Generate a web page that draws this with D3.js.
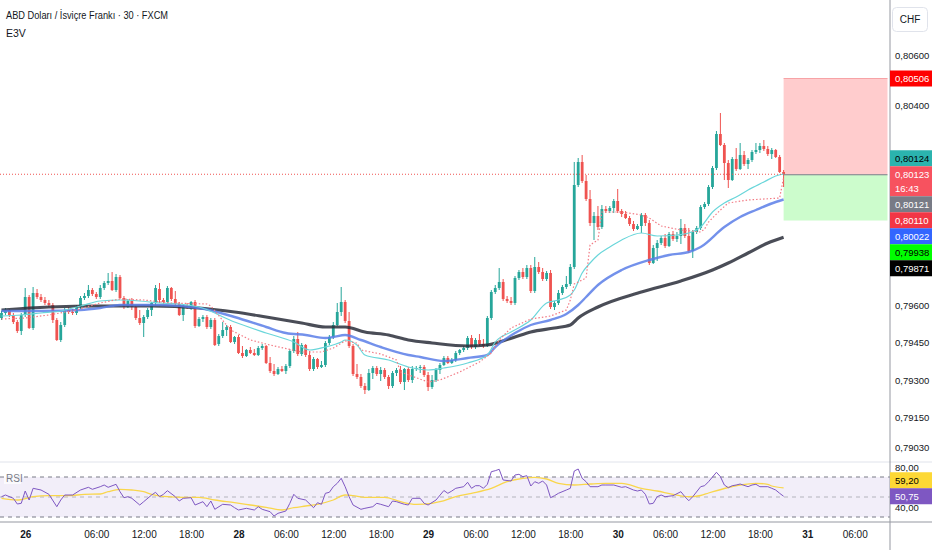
<!DOCTYPE html>
<html>
<head>
<meta charset="utf-8">
<script src="https://cdn.jsdelivr.net/npm/d3@7"></script>
<style>
  body { margin: 0; background: #fff; }
  svg { display: block; font-family: "Liberation Sans", Arial, sans-serif; }
</style>
</head>
<body>
<div id="vis"></div>
<script>
// 30 min bars, USD/CHF (FXCM)
var opens = [
  0.79548,0.79568,0.79580,0.79560,0.79532,0.79496,0.79560,0.79632,0.79508,0.79648,
  0.79632,0.79620,0.79608,0.79600,0.79540,0.79460,0.79520,0.79580,0.79572,0.79568,
  0.79592,0.79628,0.79636,0.79660,0.79644,0.79632,0.79668,0.79688,0.79696,0.79660,
  0.79712,0.79628,0.79592,0.79616,0.79592,0.79548,0.79528,0.79552,0.79580,0.79608,
  0.79664,0.79620,0.79612,0.79668,0.79624,0.79604,0.79560,0.79596,0.79588,0.79612,
  0.79516,0.79544,0.79552,0.79512,0.79540,0.79444,0.79476,0.79500,0.79512,0.79452,
  0.79472,0.79408,0.79396,0.79420,0.79408,0.79400,0.79428,0.79436,0.79368,0.79336,
  0.79324,0.79344,0.79336,0.79356,0.79416,0.79464,0.79404,0.79440,0.79400,0.79344,
  0.79384,0.79352,0.79360,0.79448,0.79472,0.79520,0.79572,0.79612,0.79536,0.79436,
  0.79324,0.79312,0.79276,0.79260,0.79328,0.79348,0.79324,0.79340,0.79312,0.79276,
  0.79328,0.79340,0.79292,0.79344,0.79300,0.79344,0.79348,0.79352,0.79320,0.79272,
  0.79300,0.79340,0.79360,0.79388,0.79368,0.79380,0.79408,0.79420,0.79428,0.79468,
  0.79432,0.79460,0.79444,0.79436,0.79548,0.79652,0.79668,0.79692,0.79624,0.79616,
  0.79608,0.79708,0.79732,0.79712,0.79748,0.79656,0.79752,0.79732,0.79704,0.79728,
  0.79592,0.79608,0.79648,0.79672,0.79684,0.79752,0.80080,0.80172,0.80096,0.80024,
  0.79928,0.79956,0.79912,0.79984,0.79976,0.79988,0.80016,0.79976,0.79964,0.79948,
  0.79924,0.79904,0.79916,0.79960,0.79928,0.79768,0.79828,0.79848,0.79868,0.79836,
  0.79884,0.79864,0.79876,0.79908,0.79876,0.79816,0.79892,0.79908,0.79992,0.80004,
  0.80072,0.80148,0.80284,0.80240,0.80168,0.80100,0.80184,0.80144,0.80200,0.80164,
  0.80180,0.80212,0.80220,0.80236,0.80224,0.80204,0.80220,0.80192,0.80132
];
var highs = [
  0.79576,0.79588,0.79584,0.79568,0.79540,0.79568,0.79668,0.79640,0.79672,0.79664,
  0.79644,0.79632,0.79620,0.79608,0.79548,0.79532,0.79588,0.79592,0.79584,0.79600,
  0.79636,0.79648,0.79680,0.79668,0.79652,0.79680,0.79696,0.79728,0.79732,0.79724,
  0.79720,0.79636,0.79624,0.79628,0.79600,0.79580,0.79560,0.79588,0.79612,0.79680,
  0.79688,0.79628,0.79676,0.79672,0.79656,0.79612,0.79600,0.79608,0.79616,0.79620,
  0.79552,0.79560,0.79560,0.79548,0.79548,0.79484,0.79532,0.79520,0.79520,0.79476,
  0.79480,0.79436,0.79424,0.79432,0.79424,0.79436,0.79444,0.79440,0.79392,0.79364,
  0.79352,0.79356,0.79364,0.79424,0.79476,0.79492,0.79448,0.79444,0.79416,0.79392,
  0.79388,0.79376,0.79456,0.79480,0.79532,0.79608,0.79672,0.79620,0.79572,0.79444,
  0.79364,0.79324,0.79288,0.79344,0.79356,0.79356,0.79352,0.79348,0.79320,0.79336,
  0.79348,0.79356,0.79348,0.79352,0.79356,0.79356,0.79360,0.79360,0.79332,0.79320,
  0.79348,0.79368,0.79396,0.79396,0.79388,0.79416,0.79424,0.79436,0.79476,0.79480,
  0.79468,0.79484,0.79464,0.79556,0.79660,0.79680,0.79748,0.79704,0.79636,0.79632,
  0.79716,0.79740,0.79748,0.79760,0.79760,0.79792,0.79772,0.79748,0.79736,0.79740,
  0.79616,0.79660,0.79680,0.79716,0.79764,0.80172,0.80188,0.80200,0.80120,0.80060,
  0.79972,0.79996,0.80000,0.79996,0.79996,0.80024,0.80064,0.79984,0.79976,0.79956,
  0.79936,0.79924,0.79968,0.79968,0.79940,0.79840,0.79860,0.79876,0.79884,0.79892,
  0.79896,0.79892,0.79944,0.79924,0.79908,0.79900,0.79916,0.80000,0.80012,0.80080,
  0.80156,0.80296,0.80368,0.80248,0.80180,0.80192,0.80228,0.80248,0.80216,0.80188,
  0.80220,0.80248,0.80248,0.80260,0.80236,0.80228,0.80224,0.80200,0.80140
];
var lows = [
  0.79540,0.79560,0.79552,0.79524,0.79488,0.79480,0.79552,0.79504,0.79500,0.79624,
  0.79612,0.79600,0.79592,0.79528,0.79456,0.79452,0.79512,0.79564,0.79560,0.79560,
  0.79584,0.79620,0.79628,0.79636,0.79624,0.79624,0.79660,0.79680,0.79656,0.79652,
  0.79624,0.79584,0.79588,0.79580,0.79540,0.79520,0.79472,0.79544,0.79556,0.79596,
  0.79608,0.79604,0.79604,0.79616,0.79596,0.79556,0.79536,0.79584,0.79580,0.79508,
  0.79512,0.79532,0.79504,0.79504,0.79436,0.79436,0.79468,0.79476,0.79448,0.79444,
  0.79404,0.79388,0.79392,0.79404,0.79396,0.79396,0.79420,0.79364,0.79328,0.79316,
  0.79320,0.79332,0.79324,0.79348,0.79408,0.79396,0.79396,0.79392,0.79336,0.79336,
  0.79344,0.79348,0.79352,0.79440,0.79464,0.79516,0.79556,0.79528,0.79428,0.79316,
  0.79304,0.79268,0.79244,0.79256,0.79304,0.79316,0.79296,0.79304,0.79264,0.79268,
  0.79316,0.79284,0.79260,0.79292,0.79288,0.79336,0.79328,0.79312,0.79256,0.79264,
  0.79292,0.79324,0.79356,0.79364,0.79364,0.79372,0.79400,0.79412,0.79420,0.79424,
  0.79424,0.79436,0.79428,0.79432,0.79540,0.79644,0.79660,0.79616,0.79608,0.79600,
  0.79600,0.79700,0.79704,0.79704,0.79648,0.79648,0.79724,0.79696,0.79696,0.79584,
  0.79580,0.79600,0.79640,0.79664,0.79676,0.79744,0.80072,0.80088,0.80016,0.79916,
  0.79860,0.79900,0.79904,0.79968,0.79968,0.79968,0.79968,0.79952,0.79944,0.79916,
  0.79896,0.79900,0.79888,0.79916,0.79760,0.79764,0.79776,0.79840,0.79828,0.79832,
  0.79856,0.79852,0.79844,0.79868,0.79808,0.79788,0.79884,0.79900,0.79984,0.79996,
  0.80064,0.80140,0.80236,0.80100,0.80068,0.80096,0.80136,0.80140,0.80156,0.80144,
  0.80172,0.80204,0.80208,0.80216,0.80196,0.80184,0.80188,0.80128,0.80072
];
var closes = [
  0.79568,0.79580,0.79560,0.79532,0.79496,0.79560,0.79632,0.79508,0.79648,0.79632,
  0.79620,0.79608,0.79600,0.79540,0.79460,0.79520,0.79580,0.79572,0.79568,0.79592,
  0.79628,0.79636,0.79660,0.79644,0.79632,0.79668,0.79688,0.79696,0.79660,0.79712,
  0.79628,0.79592,0.79616,0.79592,0.79548,0.79528,0.79552,0.79580,0.79608,0.79668,
  0.79620,0.79612,0.79668,0.79624,0.79604,0.79560,0.79596,0.79588,0.79612,0.79516,
  0.79544,0.79552,0.79512,0.79540,0.79440,0.79476,0.79500,0.79512,0.79452,0.79472,
  0.79408,0.79396,0.79420,0.79408,0.79400,0.79428,0.79436,0.79368,0.79336,0.79324,
  0.79344,0.79336,0.79356,0.79416,0.79464,0.79404,0.79440,0.79400,0.79344,0.79384,
  0.79352,0.79360,0.79448,0.79472,0.79520,0.79572,0.79612,0.79536,0.79436,0.79324,
  0.79312,0.79276,0.79260,0.79328,0.79348,0.79324,0.79340,0.79312,0.79276,0.79328,
  0.79340,0.79292,0.79344,0.79300,0.79344,0.79348,0.79352,0.79320,0.79272,0.79300,
  0.79340,0.79360,0.79388,0.79368,0.79380,0.79408,0.79420,0.79428,0.79468,0.79432,
  0.79460,0.79444,0.79436,0.79548,0.79652,0.79668,0.79692,0.79624,0.79616,0.79608,
  0.79708,0.79732,0.79712,0.79748,0.79656,0.79752,0.79732,0.79704,0.79728,0.79592,
  0.79608,0.79648,0.79672,0.79684,0.79752,0.80080,0.80172,0.80096,0.80024,0.79928,
  0.79956,0.79912,0.79984,0.79976,0.79988,0.80016,0.79976,0.79964,0.79948,0.79924,
  0.79904,0.79916,0.79960,0.79928,0.79768,0.79828,0.79848,0.79868,0.79836,0.79884,
  0.79864,0.79876,0.79908,0.79876,0.79816,0.79892,0.79908,0.79992,0.80004,0.80072,
  0.80148,0.80284,0.80240,0.80168,0.80100,0.80184,0.80144,0.80200,0.80164,0.80180,
  0.80212,0.80220,0.80236,0.80224,0.80204,0.80220,0.80192,0.80132,0.80123
];

// moving averages: [bar, price]
var emaFast = [[0,0.79556],[5,0.79560],[10,0.79568],[15,0.79576],[20,0.79596],[25,0.79616],[30,0.79620],[35,0.79616],[40,0.79608],[45,0.79604],[50,0.79592],[59,0.79532],[67,0.79488],[74,0.79452],[78,0.79420],[82,0.79432],[86,0.79452],[87,0.79460],[90,0.79440],[92,0.79400],[98,0.79380],[103,0.79352],[108,0.79340],[112,0.79348],[118,0.79368],[123,0.79400],[125,0.79452],[129,0.79492],[134,0.79540],[138,0.79608],[141,0.79620],[144,0.79640],[145,0.79660],[147,0.79728],[149,0.79768],[151,0.79800],[154,0.79832],[157,0.79860],[162,0.79888],[166,0.79876],[171,0.79880],[174,0.79888],[177,0.79912],[180,0.79972],[183,0.80008],[186,0.80032],[189,0.80060],[193,0.80092],[196,0.80116],[198,0.80124]];
var emaMid = [[0,0.79576],[10,0.79576],[20,0.79580],[25,0.79588],[30,0.79600],[40,0.79600],[50,0.79588],[59,0.79552],[67,0.79512],[72,0.79488],[77,0.79480],[82,0.79468],[84,0.79472],[87,0.79480],[91,0.79460],[96,0.79432],[103,0.79400],[106,0.79392],[112,0.79376],[118,0.79388],[123,0.79400],[125,0.79432],[130,0.79488],[134,0.79520],[139,0.79540],[143,0.79564],[146,0.79600],[148,0.79632],[151,0.79680],[157,0.79740],[164,0.79780],[169,0.79800],[174,0.79812],[177,0.79832],[183,0.79912],[187,0.79952],[191,0.79980],[196,0.80012],[198,0.80022]];
var emaSlow = [[0,0.79580],[12,0.79592],[25,0.79596],[38,0.79596],[50,0.79588],[59,0.79572],[67,0.79552],[76,0.79528],[82,0.79512],[87,0.79512],[92,0.79492],[98,0.79480],[103,0.79460],[109,0.79448],[118,0.79436],[123,0.79440],[126,0.79452],[130,0.79472],[134,0.79492],[140,0.79508],[144,0.79520],[146,0.79548],[151,0.79592],[162,0.79652],[172,0.79696],[180,0.79740],[184,0.79768],[189,0.79808],[194,0.79848],[198,0.79871]];
var trailLine = [[0,0.79544],[6,0.79548],[12,0.79560],[19,0.79580],[25,0.79608],[30,0.79624],[36,0.79620],[43,0.79608],[52,0.79604],[53,0.79596],[58,0.79500],[63,0.79460],[68,0.79440],[76,0.79412],[81,0.79412],[84,0.79428],[87,0.79456],[90,0.79448],[91,0.79420],[96,0.79404],[100,0.79380],[101,0.79332],[108,0.79292],[111,0.79300],[116,0.79332],[121,0.79372],[124,0.79408],[126,0.79460],[129,0.79508],[134,0.79544],[139,0.79556],[143,0.79580],[144,0.79620],[145,0.79684],[148,0.79708],[149,0.79840],[151,0.79860],[152,0.79972],[157,0.79972],[162,0.79960],[164,0.79948],[167,0.79916],[172,0.79900],[177,0.79892],[178,0.79904],[179,0.79932],[182,0.79980],[184,0.80008],[189,0.80020],[197,0.80028],[198,0.80110]];

// RSI and its moving average: [bar, value]
var rsi = [[0,50.3],[1,52],[3,48.7],[4,43],[5,43.7],[6,56],[7,47],[8,58.7],[10,57],[12,52.7],[14,40.3],[15,47],[16,52],[18,52],[20,57],[22,59.7],[23,57.7],[25,60.3],[26,62],[27,59.7],[29,62.7],[30,55.3],[31,49.3],[32,50.3],[33,48.7],[35,42],[36,45.3],[38,52],[39,54.7],[40,50.3],[41,52.7],[42,56.3],[44,50.3],[45,46],[46,48.7],[48,49.3],[49,42],[51,45.3],[52,40.3],[53,46],[54,37.7],[56,42.7],[58,42],[59,39.3],[60,37],[62,38.7],[64,37],[65,40.3],[66,37.7],[68,35.3],[69,31],[70,33.7],[72,36],[73,43.7],[74,52.7],[75,48.7],[77,47],[79,39.3],[80,44.3],[81,42.7],[82,53.7],[83,54.7],[84,60.3],[85,63.7],[86,68.7],[87,60.3],[88,50.3],[89,42],[91,37.7],[92,38.7],[94,40.3],[95,43.7],[96,42.7],[98,40.3],[99,46],[100,45.3],[102,42.7],[103,42],[104,48.7],[106,48.7],[107,43.7],[108,42],[110,47],[112,56.5],[113,53.7],[114,56],[115,58.7],[117,60.3],[118,64.7],[119,58.7],[120,61.3],[121,61.3],[122,58.7],[123,62.7],[124,75.3],[125,76.3],[126,77.7],[127,67],[129,66],[130,72],[131,72.7],[132,70.3],[133,71.3],[134,61],[135,65.3],[136,63.7],[137,66],[138,62],[139,49.3],[140,51.3],[141,53.7],[143,57],[144,58.7],[145,76],[146,78],[147,68.7],[148,65.3],[149,60.3],[151,60.3],[152,62],[153,62],[155,62],[157,59.7],[158,60.3],[160,57],[161,56],[162,57],[163,52.7],[164,43],[165,43.7],[166,50.3],[167,52],[168,50.3],[170,51.3],[172,55.3],[173,50.3],[174,46.3],[175,50.3],[177,60.3],[178,61.3],[179,65.3],[181,74.7],[182,70.3],[183,62],[184,59.3],[185,61.3],[186,62],[187,63],[189,60.3],[190,62],[191,62.7],[192,60.3],[194,60.3],[195,58.7],[196,57],[197,53.7],[198,50.75]];
var rsiMa = [[0,48.7],[4,47],[8,50.3],[12,51.3],[17,51.3],[21,52.7],[25,53],[27,55.3],[30,57.7],[33,57],[36,55.3],[38,52.7],[42,50.3],[46,49.7],[50,49.7],[54,47],[59,44.3],[63,42],[67,39.7],[71,37],[74,39.3],[77,41],[80,42.7],[84,47],[87,52],[89,51.3],[92,49.7],[97,49.7],[101,45.3],[105,42.7],[109,43.7],[111,45.3],[115,50.3],[119,53.7],[124,58.7],[128,65.3],[132,68.7],[135,69.7],[138,68],[141,63.7],[145,62],[149,63],[153,63.7],[157,63.7],[162,58.7],[166,56],[170,52.7],[174,50.3],[177,51.5],[179,54],[183,58.5],[187,62],[191,63.7],[194,62.7],[195,61],[198,59.2]];

var priceTicks = [0.806, 0.804, 0.796, 0.7945, 0.793, 0.7915, 0.7903];
var rsiTicks = [80, 40];
var rsiLevels = [70, 50, 30];
var timeTickBars = [6, 24, 36, 48, 60, 72, 84, 96, 108, 120, 132, 144, 156, 168, 180, 192, 204, 216];
var timeTickLabels = ["26", "06:00", "12:00", "18:00", "28", "06:00", "12:00", "18:00", "29", "06:00", "12:00", "18:00", "30", "06:00", "12:00", "18:00", "31", "06:00"];

// position tool (short): entry, stop, target, bars spanned
var posEntry = 0.80121, posStop = 0.80506, posTarget = 0.79938;
var posBars = [198, 224.3];

// last values shown on the price scale
var tagValues = [0.80506, 0.80124, 0.80123, 0.80121, 0.80110, 0.80022, 0.79938, 0.79871];
var tagFills = ["#ff0000", "#2bb3ae", "#f7525f", "#787b86", "#f23645", "#3366ff", "#00ff00", "#000000"];
var tagInk = ["#fff", "#000", "#fff", "#fff", "#fff", "#fff", "#000", "#fff"];
var mainTag = 2, countdown = "16:43";

var W = 932, H = 550, axisX = 890;
var up = "#26a69a", down = "#ef5350";

var svg = d3.select("#vis").append("svg").attr("width", W).attr("height", H);

var x = d3.scaleLinear().domain([0, 198]).range([1.5, 783.6]);
var y = d3.scaleLinear().domain([0.7903, 0.806]).range([447.5, 55]);
var yr = d3.scaleLinear().domain([30, 70]).range([517, 477]);
var fmt = function(d, k) { return d3.format("." + k + "f")(d).replace(".", ","); };

var defs = svg.append("defs");
defs.append("clipPath").attr("id", "cMain").append("rect").attr("x", 0).attr("y", 0).attr("width", axisX).attr("height", 461.5);
defs.append("clipPath").attr("id", "cRsi").append("rect").attr("x", 0).attr("y", 462.5).attr("width", axisX).attr("height", 59);
defs.append("clipPath").attr("id", "cRsiAxis").append("rect").attr("x", axisX).attr("y", 462.5).attr("width", W - axisX).attr("height", 59);

// ---------- main pane ----------
var main = svg.append("g").attr("clip-path", "url(#cMain)");

// position tool boxes
var px0 = x(posBars[0]), px1 = x(posBars[1]);
main.append("rect")
  .attr("x", px0).attr("width", px1 - px0)
  .attr("y", y(posStop)).attr("height", y(posEntry) - y(posStop))
  .attr("fill", "#ffcccd");
main.append("line")
  .attr("x1", px0).attr("x2", px1).attr("y1", y(posStop)).attr("y2", y(posStop))
  .attr("stroke", "#f7a3a6").attr("stroke-width", 1);
main.append("rect")
  .attr("x", px0).attr("width", px1 - px0)
  .attr("y", y(posEntry)).attr("height", y(posTarget) - y(posEntry))
  .attr("fill", "#ccfccc");

var bars = d3.range(closes.length).map(function(i) {
  return { i: i, o: opens[i], h: highs[i], l: lows[i], c: closes[i] };
});

main.selectAll("line.wick")
  .data(bars)
  .enter()
  .append("line")
  .attr("class", "wick")
  .attr("x1", function(d) { return x(d.i); })
  .attr("x2", function(d) { return x(d.i); })
  .attr("y1", function(d) { return y(d.h); })
  .attr("y2", function(d) { return y(d.l); })
  .attr("stroke", function(d) { return d.c >= d.o ? up : down; })
  .attr("stroke-width", 1);

main.selectAll("rect.body")
  .data(bars)
  .enter()
  .append("rect")
  .attr("class", "body")
  .attr("x", function(d) { return x(d.i) - 1.4; })
  .attr("width", 2.8)
  .attr("y", function(d) { return y(Math.max(d.o, d.c)); })
  .attr("height", function(d) { return Math.max(1, Math.abs(y(d.o) - y(d.c))); })
  .attr("fill", function(d) { return d.c >= d.o ? up : down; });

var smooth = d3.line()
  .x(function(d) { return x(d[0]); })
  .y(function(d) { return y(d[1]); })
  .curve(d3.curveMonotoneX);
var straight = d3.line()
  .x(function(d) { return x(d[0]); })
  .y(function(d) { return y(d[1]); });

main.append("path").datum(emaSlow).attr("d", smooth)
  .attr("fill", "none").attr("stroke", "#2a2e39").attr("stroke-opacity", 0.85).attr("stroke-width", 3.2);
main.append("path").datum(emaMid).attr("d", smooth)
  .attr("fill", "none").attr("stroke", "#5b7ee8").attr("stroke-opacity", 0.85).attr("stroke-width", 2.4);
main.append("path").datum(emaFast).attr("d", smooth)
  .attr("fill", "none").attr("stroke", "#6ad6da").attr("stroke-width", 1.2);
main.append("path").datum(trailLine).attr("d", straight)
  .attr("fill", "none").attr("stroke", "#f27c86").attr("stroke-width", 1.2).attr("stroke-dasharray", "1.5,2");

// current price line, then the position's entry line over the tool
main.append("line")
  .attr("x1", 0).attr("x2", px0)
  .attr("y1", y(closes[closes.length - 1])).attr("y2", y(closes[closes.length - 1]))
  .attr("stroke", "#ef5350").attr("stroke-width", 1).attr("stroke-dasharray", "1,2");
main.append("line")
  .attr("x1", px0).attr("x2", px1).attr("y1", y(posEntry)).attr("y2", y(posEntry))
  .attr("stroke", "#787b86").attr("stroke-width", 1);

// ---------- RSI pane ----------
var rp = svg.append("g").attr("clip-path", "url(#cRsi)");
rp.append("rect").attr("x", 0).attr("width", axisX)
  .attr("y", yr(70)).attr("height", yr(30) - yr(70))
  .attr("fill", "#7e57c2").attr("fill-opacity", 0.1);
rp.selectAll("line.lvl")
  .data(rsiLevels)
  .enter()
  .append("line")
  .attr("class", "lvl")
  .attr("x1", 0).attr("x2", axisX)
  .attr("y1", function(d) { return yr(d); })
  .attr("y2", function(d) { return yr(d); })
  .attr("stroke", "#787b86")
  .attr("stroke-opacity", function(d) { return d === 50 ? 0.5 : 1; })
  .attr("stroke-dasharray", "4,4");

rp.append("path").datum(rsiMa)
  .attr("d", d3.line().x(function(d) { return x(d[0]); }).y(function(d) { return yr(d[1]); }).curve(d3.curveMonotoneX))
  .attr("fill", "none").attr("stroke", "#f9d64c").attr("stroke-width", 1.3);
rp.append("path").datum(rsi)
  .attr("d", d3.line().x(function(d) { return x(d[0]); }).y(function(d) { return yr(d[1]); }))
  .attr("fill", "none").attr("stroke", "#7e57c2").attr("stroke-width", 1);

rp.append("rect").attr("x", 4).attr("y", 473).attr("width", 17).attr("height", 11).attr("fill", "#fff").attr("fill-opacity", 0.7);
rp.append("text").attr("x", 6).attr("y", 482).text("RSI")
  .attr("font-size", 10).attr("fill", "#787b86");

// ---------- frame lines ----------
svg.append("line").attr("x1", 0).attr("x2", W).attr("y1", 462).attr("y2", 462).attr("stroke", "#e0e3eb");
svg.append("line").attr("x1", 0).attr("x2", W).attr("y1", 522).attr("y2", 522).attr("stroke", "#9598a1");
svg.append("line").attr("x1", axisX).attr("x2", axisX).attr("y1", 0).attr("y2", H).attr("stroke", "#9598a1");

// ---------- price axis ----------
var pAxis = svg.append("g")
  .attr("transform", "translate(" + axisX + ",0)")
  .call(d3.axisRight(y).tickValues(priceTicks).tickSize(0).tickPadding(5)
    .tickFormat(function(d) { return fmt(d, 5); }));
pAxis.select(".domain").remove();
pAxis.selectAll("text").attr("font-size", 9.5).attr("fill", "#131722")
  .attr("font-family", "Liberation Sans, Arial, sans-serif");

var rAxis = svg.append("g")
  .attr("clip-path", "url(#cRsiAxis)")
  .append("g")
  .attr("transform", "translate(" + axisX + ",0)")
  .call(d3.axisRight(yr).tickValues(rsiTicks).tickSize(0).tickPadding(5)
    .tickFormat(function(d) { return fmt(d, 2); }));
rAxis.select(".domain").remove();
rAxis.selectAll("text").attr("font-size", 9.5).attr("fill", "#131722")
  .attr("font-family", "Liberation Sans, Arial, sans-serif");

// ---------- time axis ----------
var tAxis = svg.append("g")
  .attr("transform", "translate(0,522)")
  .call(d3.axisBottom(x).tickValues(timeTickBars).tickSize(0).tickPadding(9)
    .tickFormat(function(d, i) { return timeTickLabels[i]; }));
tAxis.select(".domain").remove();
tAxis.selectAll("text")
  .attr("font-size", 10)
  .attr("fill", "#131722")
  .attr("font-family", "Liberation Sans, Arial, sans-serif")
  .attr("font-weight", function(d, i) { return timeTickLabels[i].length <= 2 ? "bold" : "normal"; });

// ---------- price tags ----------
function tag(yc, h, fill, ink, lines) {
  var g = svg.append("g");
  g.append("rect").attr("x", axisX).attr("y", yc - 8).attr("width", W - axisX).attr("height", h)
    .attr("fill", fill);
  lines.forEach(function(t, k) {
    g.append("text").attr("x", axisX + 5).attr("y", yc + 3.5 + k * 14).text(t)
      .attr("font-size", 9.5).attr("fill", ink);
  });
}

var mainY = y(tagValues[mainTag]);
var limit = mainY - 8;
for (var k = mainTag - 1; k >= 0; k--) {
  var c = Math.min(y(tagValues[k]), limit - 8);
  tag(c, 16, tagFills[k], tagInk[k], [fmt(tagValues[k], 5)]);
  limit = c - 8;
}
tag(mainY, 30, tagFills[mainTag], tagInk[mainTag], [fmt(tagValues[mainTag], 5), countdown]);
limit = mainY + 22;
for (var k2 = mainTag + 1; k2 < tagValues.length; k2++) {
  var c2 = Math.max(y(tagValues[k2]), limit + 8);
  tag(c2, 16, tagFills[k2], tagInk[k2], [fmt(tagValues[k2], 5)]);
  limit = c2 + 8;
}

// RSI tags
var rsiLast = rsi[rsi.length - 1][1], maLast = rsiMa[rsiMa.length - 1][1];
var rsiY = yr(rsiLast);
tag(Math.min(yr(maLast), rsiY - 16), 16, "#fdd835", "#000", [fmt(maLast, 2)]);
tag(rsiY, 16, "#7e57c2", "#fff", [fmt(rsiLast, 2)]);

// ---------- header ----------
svg.append("rect").attr("x", 892.5).attr("y", 7.5).attr("width", 35).attr("height", 24).attr("rx", 4)
  .attr("fill", "#fff").attr("stroke", "#e0e3eb");
svg.append("text").attr("x", 910).attr("y", 23).attr("text-anchor", "middle").text("CHF")
  .attr("font-size", 10).attr("fill", "#131722");

svg.append("text").attr("x", 6).attr("y", 19).text("ABD Doları / İsviçre Frankı · 30 · FXCM")
  .attr("font-size", 11).attr("fill", "#131722")
  .attr("textLength", 162).attr("lengthAdjust", "spacingAndGlyphs");
svg.append("text").attr("x", 6).attr("y", 37).text("E3V")
  .attr("font-size", 10.5).attr("fill", "#131722");
</script>
</body>
</html>
